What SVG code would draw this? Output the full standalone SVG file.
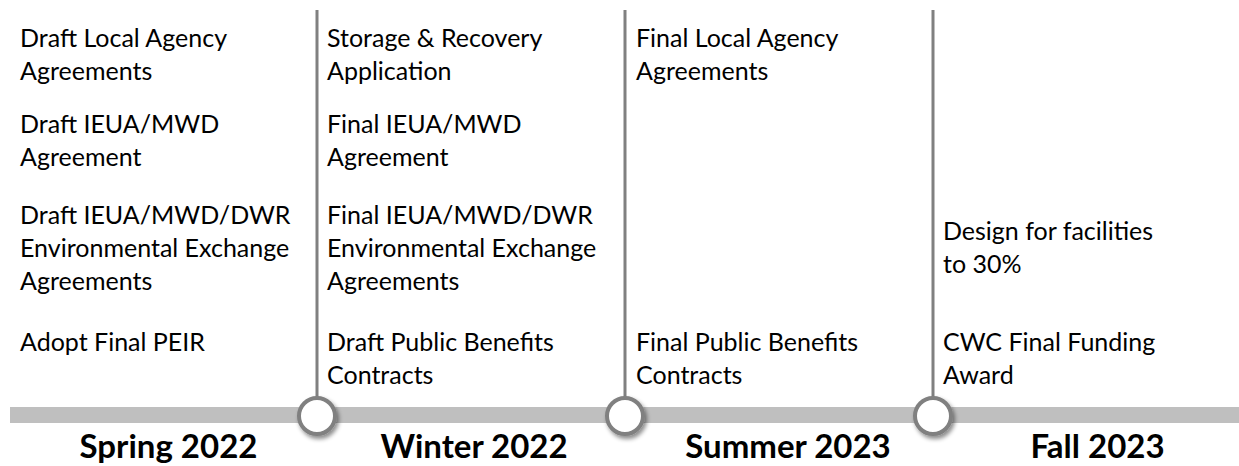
<svg xmlns="http://www.w3.org/2000/svg" width="1239" height="466" viewBox="0 0 1239 466">
<style>
.t{font-family:Lato,"Liberation Sans",sans-serif;font-size:25px;fill:#000}
.h{font-family:Lato,"Liberation Sans",sans-serif;font-size:33px;font-weight:bold;fill:#000;text-anchor:middle}
.v{stroke:#808080;stroke-width:3}
.m{fill:#fff;stroke:#808080;stroke-width:4;filter:url(#sh)}
</style>
<defs>
<filter id="sh" x="-50%" y="-50%" width="200%" height="200%">
<feDropShadow dx="2" dy="3" stdDeviation="2" flood-color="#000" flood-opacity="0.45"/>
</filter>
</defs>
<rect x="10" y="407" width="1229" height="16" fill="#bfbfbf"/>
<g id="connectors">
<line class="v" x1="317" y1="10" x2="317" y2="400"/>
<line class="v" x1="625" y1="10" x2="625" y2="400"/>
<line class="v" x1="933" y1="10" x2="933" y2="400"/>
</g>
<g id="m1"><circle class="m" cx="317" cy="416" r="18"/></g>
<g id="m2"><circle class="m" cx="625" cy="416" r="18"/></g>
<g id="m3"><circle class="m" cx="933" cy="416" r="18"/></g>
<g id="col1">
<text class="t" x="20" y="47">Draft Local Agency</text>
<text class="t" x="20" y="80">Agreements</text>
<text class="t" x="20" y="133">Draft IEUA/MWD</text>
<text class="t" x="20" y="166">Agreement</text>
<text class="t" x="20" y="224">Draft IEUA/MWD/DWR</text>
<text class="t" x="20" y="257">Environmental Exchange</text>
<text class="t" x="20" y="290">Agreements</text>
<text class="t" x="20" y="351">Adopt Final PEIR</text>
</g>
<g id="col2">
<text class="t" x="327" y="47">Storage &amp; Recovery</text>
<text class="t" x="327" y="80">Application</text>
<text class="t" x="327" y="133">Final IEUA/MWD</text>
<text class="t" x="327" y="166">Agreement</text>
<text class="t" x="327" y="224">Final IEUA/MWD/DWR</text>
<text class="t" x="327" y="257">Environmental Exchange</text>
<text class="t" x="327" y="290">Agreements</text>
<text class="t" x="327" y="351">Draft Public Benefits</text>
<text class="t" x="327" y="384">Contracts</text>
</g>
<g id="col3">
<text class="t" x="636" y="47">Final Local Agency</text>
<text class="t" x="636" y="80">Agreements</text>
<text class="t" x="636" y="351">Final Public Benefits</text>
<text class="t" x="636" y="384">Contracts</text>
</g>
<g id="col4">
<text class="t" x="943" y="240">Design for facilities</text>
<text class="t" x="943" y="273">to 30%</text>
<text class="t" x="943" y="351">CWC Final Funding</text>
<text class="t" x="943" y="384">Award</text>
</g>
<g id="labels">
<text class="h" x="168.5" y="458">Spring 2022</text>
<text class="h" x="474" y="458">Winter 2022</text>
<text class="h" x="788" y="458">Summer 2023</text>
<text class="h" x="1097.5" y="458">Fall 2023</text>
</g>
</svg>
